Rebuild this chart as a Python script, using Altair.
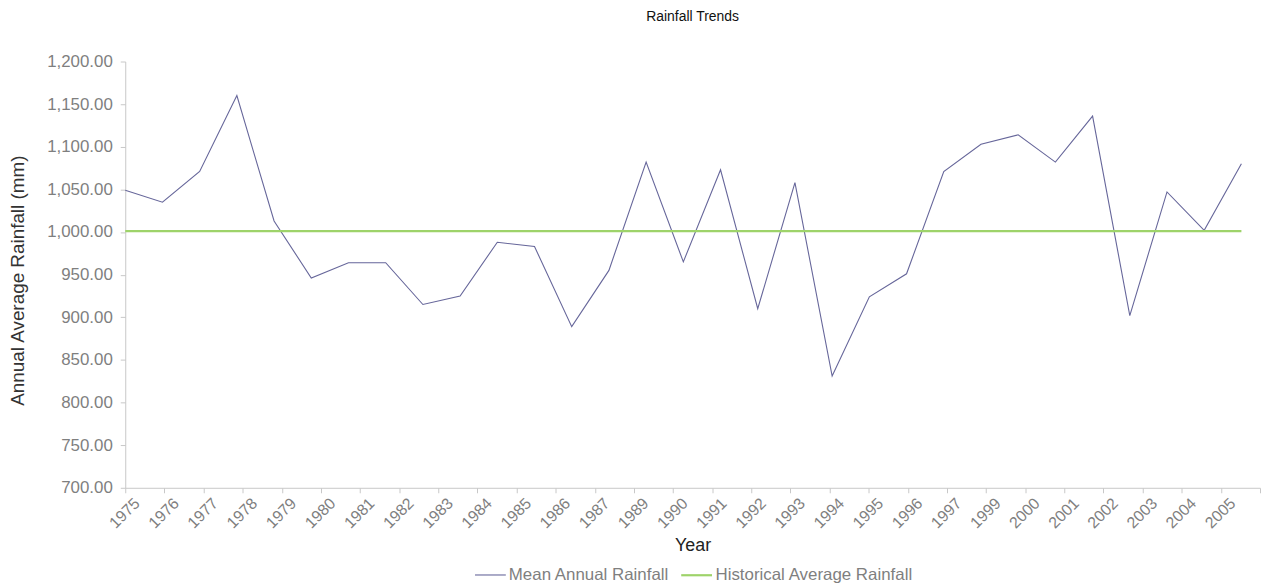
import altair as alt
import pandas as pd

# ---- data ----
years = list(range(1975, 2006))
mean_rainfall = [1049, 1035, 1071, 1160, 1013, 946, 964, 964, 915, 925,
                 988, 983, 889, 955, 1082, 965, 1073, 910, 1058, 831,
                 924, 951, 1071, 1103, 1114, 1082, 1136, 902, 1047, 1002, 1080]
historical_avg = [1001] * len(years)
tick_labels = ["1975", "1976", "1977", "1978", "1979", "1980", "1981", "1982",
               "1983", "1984", "1985", "1986", "1987", "1989", "1990", "1991",
               "1992", "1993", "1994", "1995", "1996", "1997", "1999", "2000",
               "2001", "2002", "2003", "2004", "2005", " "]
series_names = ["Mean Annual Rainfall", "Historical Average Rainfall"]
series_colors = ["#66669a", "#9ed36a"]

rows = []
for y, m, h in zip(years, mean_rainfall, historical_avg):
    rows.append({"year": y, "value": m, "series": series_names[0]})
    rows.append({"year": y, "value": h, "series": series_names[1]})
df = pd.DataFrame(rows)
labels_df = pd.DataFrame({"label": tick_labels})

FONT = "Liberation Sans"
W, H = 1142, 429

y_enc = alt.Y("value:Q",
              scale=alt.Scale(domain=[700, 1200], nice=False, zero=False),
              axis=alt.Axis(title="Annual Average Rainfall (mm)", values=list(range(700, 1201, 50)),
                            format=",.2f", grid=False, domainColor="#c8c8c8", tickColor="#c8c8c8",
                            tickSize=5, labelFont=FONT, labelFontSize=17, labelColor="#7f7f7f",
                            labelPadding=8, titleFont=FONT, titleFontSize=19, titleFontWeight="normal",
                            titleColor="#333333", titleAngle=270, titleX=-108, titleY=220,
                            titleAlign="center", titleBaseline="middle"))

lines = alt.Chart(df).mark_line().encode(
    x=alt.X("year:Q", scale=alt.Scale(domain=[1975, 2005.5], nice=False, zero=False), axis=None),
    y=y_enc,
    color=alt.Color("series:N",
                    scale=alt.Scale(domain=series_names, range=series_colors),
                    legend=alt.Legend(title=None, orient="none", legendX=351, legendY=500,
                                      direction="horizontal", symbolType="stroke",
                                      symbolSize=961, symbolStrokeWidth=1.5,
                                      labelFont=FONT, labelFontSize=17, labelColor="#7f7f7f",
                                      labelLimit=400, labelOffset=2, columnPadding=7)),
    strokeWidth=alt.StrokeWidth("series:N",
                                scale=alt.Scale(domain=series_names, range=[1.1, 2.2]),
                                legend=None),
)

axis_layer = alt.Chart(labels_df).mark_point(opacity=0).encode(
    x=alt.X("label:O", sort=None,
            scale=alt.Scale(type="point", domain=tick_labels, padding=0),
            axis=alt.Axis(title="Year", labelAngle=315, labelFont=FONT, labelFontSize=16,
                          labelColor="#7f7f7f", domainColor="#c8c8c8", tickColor="#c8c8c8",
                          tickSize=5, labelPadding=2, labelOffset=6,
                          titleFont=FONT, titleFontSize=18, titleFontWeight="normal",
                          titleColor="#222222", titleX=571, titleY=58, titleBaseline="middle")),
    y=alt.value(0),
)

chart = alt.layer(lines, axis_layer).resolve_scale(x="independent").properties(
    width=W, height=H,
    autosize=alt.AutoSizeParams(type="none"),
    padding={"left": 118, "top": 52, "right": 2, "bottom": 100},
    title=alt.Title("Rainfall Trends", font=FONT, fontSize=14, fontWeight="normal",
                    color="#111111", anchor="middle", offset=29),
).configure_view(stroke=None)

chart.save("out.html", embed_options={"renderer": "svg", "actions": False})
